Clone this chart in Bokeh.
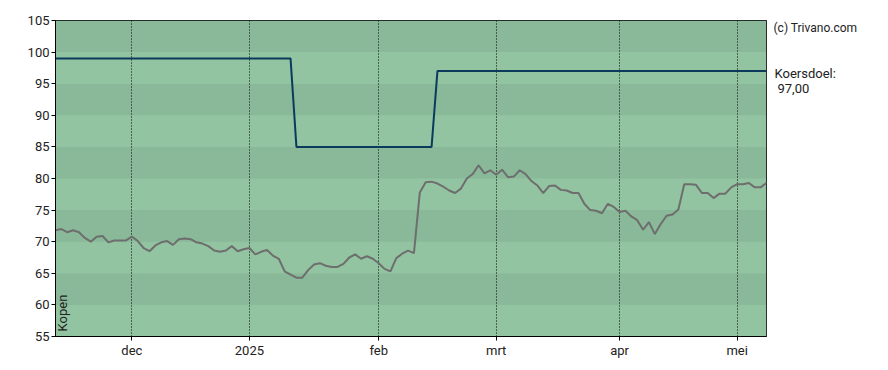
import math
from bokeh.plotting import figure
from bokeh.layouts import row
from bokeh.models import FixedTicker, Label, Range1d
from bokeh.core.properties import value
from bokeh.embed import file_html
from bokeh.resources import INLINE

# Daily closing prices (trading-day index 0..121)
price = [
    71.8, 72.0, 71.5, 71.8, 71.5, 70.6, 70.0, 70.8, 70.9, 69.9,
    70.2, 70.2, 70.2, 70.8, 70.1, 69.0, 68.5, 69.4, 69.9, 70.1,
    69.5, 70.4, 70.5, 70.4, 69.9, 69.7, 69.3, 68.6, 68.4, 68.6,
    69.3, 68.5, 68.8, 69.0, 68.0, 68.4, 68.7, 67.8, 67.3, 65.3,
    64.8, 64.3, 64.3, 65.5, 66.4, 66.6, 66.2, 66.0, 66.0, 66.5,
    67.5, 68.0, 67.3, 67.7, 67.3, 66.6, 65.7, 65.3, 67.4, 68.1,
    68.6, 68.2, 77.8, 79.4, 79.5, 79.2, 78.7, 78.1, 77.7, 78.4,
    80.0, 80.7, 82.1, 80.8, 81.3, 80.6, 81.4, 80.2, 80.3, 81.3,
    80.7, 79.6, 78.9, 77.7, 78.8, 78.9, 78.2, 78.1, 77.7, 77.7,
    76.0, 75.0, 74.9, 74.5, 76.0, 75.5, 74.7, 74.9, 74.0, 73.4,
    71.9, 73.1, 71.2, 72.8, 74.1, 74.3, 75.1, 79.1, 79.1, 79.0,
    77.7, 77.7, 76.9, 77.6, 77.6, 78.6, 79.1, 79.1, 79.3, 78.6,
    78.6, 79.3,
]

# Price target (koersdoel) steps
target_days = [0, 40, 41, 64, 65, 121]
target_values = [99, 99, 85, 85, 97, 97]
target_title = "Koersdoel:"
target_label = "97,00"
copyright_text = "(c) Trivano.com"
advice_text = "Kopen"

month_ticks = [13, 33, 55, 75, 96, 116]
month_labels = ["dec", "2025", "feb", "mrt", "apr", "mei"]
y_ticks = [55, 60, 65, 70, 75, 80, 85, 90, 95, 100, 105]
band_colors = ["#92c4a1", "#89b998"]

FONT = "Roboto"
TXT = "#222222"
W, H = 888, 370

n = len(price)
p = figure(
    frame_width=711, frame_height=316,
    x_range=Range1d(0, n - 1), y_range=Range1d(y_ticks[0], y_ticks[-1]),
    output_backend="svg", toolbar_location=None,
    min_border_left=55, min_border_right=1, min_border_top=20, min_border_bottom=34,
)
p.background_fill_color = band_colors[0]
p.border_fill_color = "white"
p.outline_line_color = "black"
p.outline_line_width = 1

# alternating horizontal bands
p.quad(left=0, right=n - 1, bottom=y_ticks[:-1], top=y_ticks[1:],
       fill_color=[band_colors[i % 2] for i in range(len(y_ticks) - 1)],
       line_color=None, level="image")

p.xgrid.ticker = FixedTicker(ticks=month_ticks)
p.xgrid.grid_line_color = "black"
p.xgrid.grid_line_dash = "1 2"
p.xgrid.grid_line_width = 1
p.ygrid.grid_line_color = None

p.xaxis.ticker = FixedTicker(ticks=month_ticks)
p.xaxis.major_label_overrides = {t: l for t, l in zip(month_ticks, month_labels)}
p.yaxis.ticker = FixedTicker(ticks=y_ticks)
for ax in (p.xaxis, p.yaxis):
    ax.axis_line_color = "black"
    ax.major_tick_line_color = "black"
    ax.major_tick_in = 0
    ax.major_tick_out = 4
    ax.minor_tick_line_color = None
    ax.major_label_text_font = FONT
    ax.major_label_text_font_size = "13px"
    ax.major_label_text_color = TXT
    ax.major_label_standoff = 2

p.line(list(range(n)), price, line_color="#6e6e6e", line_width=2)
p.line(target_days, target_values, line_color="#0b3a5c", line_width=2)

p.add_layout(Label(x=1.2, y=55.8, text=advice_text, angle=math.pi / 2,
                   text_font=FONT, text_font_size="13px", text_color=TXT,
                   text_align="left", text_baseline="alphabetic"))

# right-hand side panel with texts (pixel coordinates of this panel)
side_w = W - 767
p2 = figure(width=side_w, height=H, x_range=Range1d(0, side_w), y_range=Range1d(H, 0),
            output_backend="svg", toolbar_location=None, min_border=0)
p2.axis.visible = False
p2.grid.visible = False
p2.outline_line_color = None
p2.background_fill_color = "white"
p2.border_fill_color = "white"
p2.text(x=[6], y=[9], text=[copyright_text], text_font=value(FONT),
        text_font_size="12px", text_color=TXT, text_baseline="middle", text_align="left")
p2.text(x=[7, 10], y=[62, 80], text=[target_title, target_label], text_font=value(FONT),
        text_font_size="13px", text_color=TXT, text_baseline="middle", text_align="left")

layout = row(p, p2, spacing=0)
open("out.html", "w").write(file_html(layout, INLINE))
